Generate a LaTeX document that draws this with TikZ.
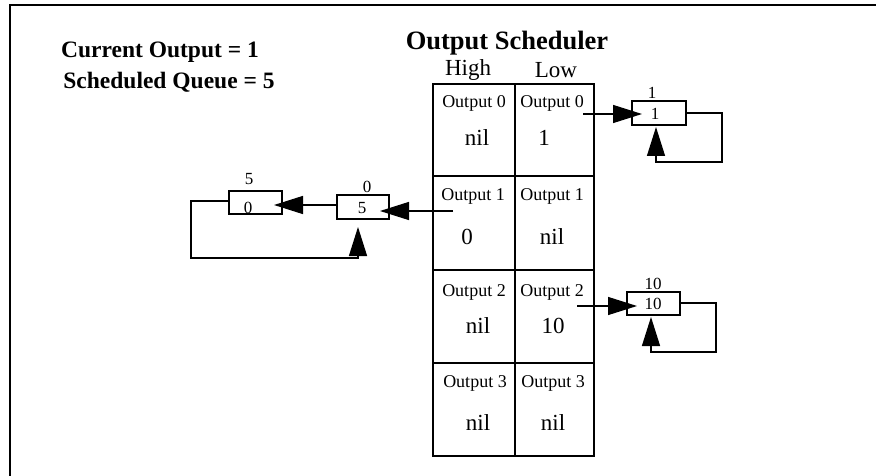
\documentclass[tikz,border=0pt]{standalone}
\usepackage{fontspec}
\setmainfont{Liberation Serif}
\usetikzlibrary{arrows.meta}
\tikzset{
  txt/.style={inner sep=0pt, font=\fontsize{#1}{#1}\selectfont},
  btxt/.style={inner sep=0pt, font=\fontsize{#1}{#1}\selectfont\bfseries},
  qbox/.style={draw, line width=1.3pt, inner sep=0pt, minimum width=53pt, minimum height=24pt},
  conn/.style={line width=1.3pt},
  arr/.style={conn, -{Triangle[length=29pt,width=18pt]}},
  tab/.style={line width=1.5pt}
}
\begin{document}
\begin{tikzpicture}[x=1pt,y=-1pt]
\useasboundingbox (0,0) rectangle (876,476);
% frame
\draw[line width=2pt] (10,476) -- (10,5) -- (876,5);
% titles
\node[btxt=23.5] (cur) at (160,52) {Current Output = 1};
\node[btxt=23.5] (sch) at (169,82) {Scheduled Queue = 5};
\node[btxt=26.5] (title) at (507,43) {Output Scheduler};
\node[txt=23] (high) at (468,70) {High};
\node[txt=23] (low) at (556,70) {Low};
% table
\draw[tab] (433,84) rectangle (594,456);
\draw[tab] (515,84) -- (515,456);
\draw[tab] (433,176) -- (594,176);
\draw[tab] (433,270) -- (594,270);
\draw[tab] (433,363) -- (594,363);
% cell texts
\node[txt=18] (h0) at (474,103) {Output 0};
\node[txt=18] (l0) at (552,103) {Output 0};
\node[txt=23] (hv0) at (477,138) {nil};
\node[txt=23] (lv0) at (544,138) {1};
\node[txt=18] (h1) at (473,196) {Output 1};
\node[txt=18] (l1) at (552,196) {Output 1};
\node[txt=23] (hv1) at (467,237) {0};
\node[txt=23] (lv1) at (552,237) {nil};
\node[txt=18] (h2) at (474,292) {Output 2};
\node[txt=18] (l2) at (552,292) {Output 2};
\node[txt=23] (hv2) at (478,326) {nil};
\node[txt=23] (lv2) at (553,326) {10};
\node[txt=18] (h3) at (475,383) {Output 3};
\node[txt=18] (l3) at (553,383) {Output 3};
\node[txt=23] (hv3) at (478,423) {nil};
\node[txt=23] (lv3) at (553,423) {nil};
% queue boxes
\node[qbox, minimum width=54pt] (b1) at (659,113) {};
\node[txt=17] (b1in) at (655,114) {1};
\node[txt=17] (b1top) at (652,93) {1};
\node[qbox, minimum height=23pt] (b2) at (653.5,303.5) {};
\node[txt=17] (b2in) at (653,304) {10};
\node[txt=17] (b2top) at (653,284) {10};
\node[qbox, minimum width=52pt] (bm) at (363,207) {};
\node[txt=17] (bmin) at (362,208) {5};
\node[txt=17] (bmtop) at (367,187) {0};
\node[qbox, minimum height=23pt] (bl) at (255.5,202.5) {};
\node[txt=17] (blin) at (248,208) {0};
\node[txt=17] (bltop) at (249,179) {5};
% connector end points
\coordinate (s0) at (583,114);
\coordinate (t0) at (642,114);
\coordinate (s2) at (577,306);
\coordinate (t2) at (637,306);
\coordinate (s1) at (453,211);
\coordinate (t1) at (380,211);
\coordinate (tm) at (274,205);
% connectors
\draw[arr] (s0) -- (t0);
\draw[arr] (b1.east |- 0,113) -- (722,113) -- (722,162) -- (656,162) -- (656,127);
\draw[arr] (s2) -- (t2);
\draw[arr] (b2.east |- 0,303) -- (716,303) -- (716,352) -- (651,352) -- (651,317);
\draw[arr] (s1) -- (t1);
\draw[arr] (bm.west |- 0,205) -- (tm);
\draw[arr] (bl.west |- 0,201) -- (191,201) -- (191,258) -- (358,258) -- (358,227);
\end{tikzpicture}
\end{document}
